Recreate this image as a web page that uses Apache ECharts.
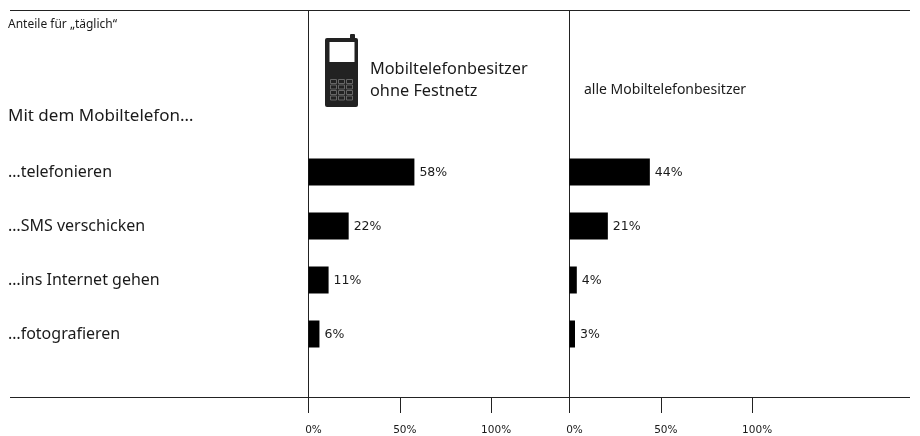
<!DOCTYPE html>
<html>
<head>
<meta charset="utf-8">
<style>
  html, body { margin: 0; padding: 0; background: #fff; }
  #chart { width: 920px; height: 436px; }
</style>
<script src="https://cdn.jsdelivr.net/npm/echarts@6/dist/echarts.min.js"></script>
</head>
<body>
<div id="chart"></div>
<script>
const categories = ['…telefonieren', '…SMS verschicken', '…ins Internet gehen', '…fotografieren']
const ohneFestnetz = [58, 22, 11, 6]
const alleBesitzer = [44, 21, 4, 3]
const tickValues = [0, 50, 100]

const textFont = '"Noto Sans", sans-serif'
const numFont = '"DejaVu Sans", sans-serif'

function rule(x1, y1, x2, y2) {
  return { type: 'line', shape: { x1, y1, x2, y2 }, style: { stroke: '#222', lineWidth: 1 }, silent: true }
}

function text(x, y, value, fontSize) {
  return {
    type: 'text', x, y,
    style: { text: value, font: `${fontSize}px ${textFont}`, fill: '#1a1a1a', textVerticalAlign: 'middle', lineHeight: 22 }
  }
}

// phone icon, keypad keys are light outlines on the dark body
function phoneIcon() {
  const keys = []
  for (let row = 0; row < 4; row++) {
    for (let col = 0; col < 3; col++) {
      keys.push({
        type: 'rect',
        shape: { x: 330.5 + col * 8, y: 79.5 + row * 5.5, width: 6, height: 4 },
        style: { fill: 'none', stroke: '#666', lineWidth: 1 }
      })
    }
  }
  return [
    { type: 'rect', shape: { x: 350, y: 34, width: 5, height: 6, r: 1 }, style: { fill: '#222' } },
    { type: 'rect', shape: { x: 325, y: 38, width: 33, height: 69, r: 2 }, style: { fill: '#222' } },
    { type: 'rect', shape: { x: 329.5, y: 42, width: 25, height: 20 }, style: { fill: '#fff' } }
  ].concat(keys)
}

function xAxis(gridIndex) {
  return {
    type: 'value',
    gridIndex,
    min: 0,
    max: 100,
    interval: 50,
    position: 'bottom',
    offset: 36,
    axisLine: { show: true, onZero: false, lineStyle: { color: '#222', width: 1 } },
    axisTick: { show: true, length: 16, lineStyle: { color: '#222', width: 1 } },
    splitLine: { show: false },
    axisLabel: {
      show: true,
      margin: 28,
      padding: [0, 0, 0, 10],
      color: '#1a1a1a',
      fontFamily: numFont,
      fontSize: 10.5,
      hideOverlap: false,
      showMinLabel: true,
      showMaxLabel: true,
      formatter: v => tickValues.includes(v) ? v + '%' : ''
    }
  }
}

function yAxis(gridIndex, showLabels) {
  return {
    type: 'category',
    gridIndex,
    inverse: true,
    data: categories,
    axisLine: { show: false },
    axisTick: { show: false },
    axisLabel: {
      show: showLabels,
      margin: 300.5,
      align: 'left',
      padding: [3, 0, 0, 0],
      color: '#1a1a1a',
      fontFamily: textFont,
      fontSize: 16
    }
  }
}

function barSeries(name, data, index) {
  return {
    name,
    type: 'bar',
    xAxisIndex: index,
    yAxisIndex: index,
    data,
    barWidth: 27,
    itemStyle: { color: '#000' },
    label: {
      show: true,
      position: 'right',
      distance: 5,
      offset: [0, 1],
      formatter: '{c}%',
      color: '#1a1a1a',
      fontFamily: numFont,
      fontSize: 12.5
    },
    silent: true
  }
}

const chart = echarts.init(document.getElementById('chart'), null, { renderer: 'canvas' })
chart.setOption({
  animation: false,
  backgroundColor: '#fff',
  grid: [
    { left: 308.5, top: 145, width: 182.6, height: 216 },
    { left: 569.5, top: 145, width: 182.6, height: 216 }
  ],
  xAxis: [xAxis(0), xAxis(1)],
  yAxis: [yAxis(0, true), yAxis(1, false)],
  series: [
    barSeries('Mobiltelefonbesitzer ohne Festnetz', ohneFestnetz, 0),
    barSeries('alle Mobiltelefonbesitzer', alleBesitzer, 1)
  ],
  graphic: [
    rule(10, 10.5, 910, 10.5),
    rule(10, 397.5, 910, 397.5),
    rule(308.5, 10, 308.5, 397),
    rule(569.5, 10, 569.5, 397),
    text(8, 25, 'Anteile für „täglich“', 12),
    text(8, 116, 'Mit dem Mobiltelefon…', 17),
    text(370, 80, 'Mobiltelefonbesitzer\nohne Festnetz', 16.3),
    text(584, 90, 'alle Mobiltelefonbesitzer', 14),
    ...phoneIcon()
  ]
})
</script>
</body>
</html>
